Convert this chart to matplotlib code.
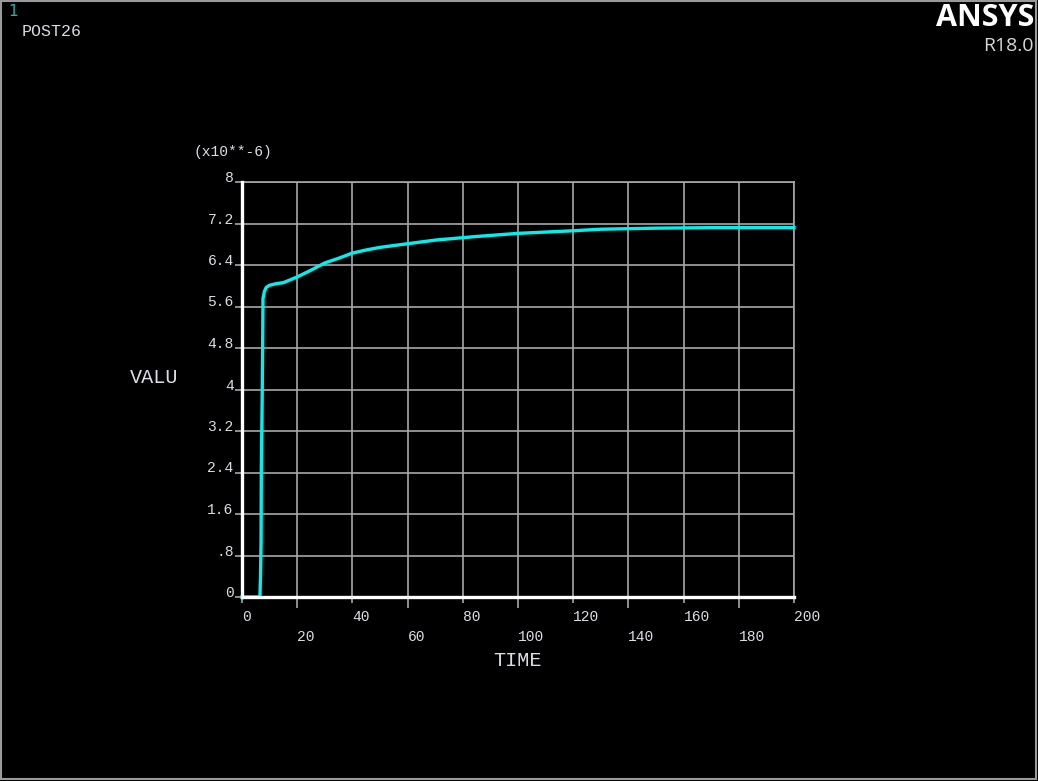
import matplotlib
matplotlib.use("Agg")
import matplotlib.pyplot as plt
from matplotlib.patches import Rectangle

# Data (values in units of 1e-6)
time = [0, 6.5, 6.7, 6.9, 7.0, 7.3, 7.5, 7.6, 7.8, 8.1, 8.8, 10, 12.4, 15, 20, 25,
        30, 35, 40, 45, 50, 60, 70, 85, 100, 120, 130, 150, 170, 200]
valu = [0, 0, 0.39, 1.04, 2.49, 3.76, 4.99, 5.76, 5.80, 5.89, 5.97, 6.01, 6.04, 6.06,
        6.17, 6.30, 6.44, 6.53, 6.63, 6.69, 6.74, 6.81, 6.88, 6.95, 7.01, 7.06, 7.09,
        7.11, 7.12, 7.12]

x_major = [0, 40, 80, 120, 160, 200]
x_minor = [20, 60, 100, 140, 180]
y_ticks = [0, 0.8, 1.6, 2.4, 3.2, 4, 4.8, 5.6, 6.4, 7.2, 8]
y_labels = ["0", ".8", "1.6", "2.4", "3.2", "4", "4.8", "5.6", "6.4", "7.2", "8"]

W, H = 1038, 781
fig = plt.figure(figsize=(W / 100, H / 100), dpi=100, facecolor="black")
ax = fig.add_axes([242 / W, (H - 597) / H, (794 - 242) / W, (597 - 182) / H])
ax.set_facecolor("black")

grid_c = "#a8a8a8"
text_c = "#dcdce4"
mono = "Liberation Mono"

ax.plot(time, valu, color="#00f0f0", lw=2.4, solid_joinstyle="round", zorder=3, clip_on=False)

ax.set_xlim(0, 200)
ax.set_ylim(0, 8)

ax.set_xticks(x_major)
ax.set_xticks(x_minor, minor=True)
ax.set_xticklabels([str(v) for v in x_major], fontfamily=mono, fontsize=10.5, color=text_c, ha="left")
ax.set_xticklabels([str(v) for v in x_minor], minor=True, fontfamily=mono, fontsize=10.5, color=text_c, ha="left")
ax.set_yticks(y_ticks)
ax.set_yticklabels(y_labels, fontfamily=mono, fontsize=10.5, color=text_c, va="baseline")

ax.tick_params(axis="x", which="major", length=4.5, width=1.2, color=grid_c, pad=5)
ax.tick_params(axis="x", which="minor", length=8, width=1.2, color=grid_c, pad=16)
ax.tick_params(axis="y", which="major", length=5, width=1.2, color=grid_c, pad=1)

ax.grid(True, which="both", color=grid_c, lw=1.2)
ax.set_axisbelow(True)

for s in ["top", "right"]:
    ax.spines[s].set_color(grid_c)
    ax.spines[s].set_linewidth(1.2)
for s in ["left", "bottom"]:
    ax.spines[s].set_color("white")
    ax.spines[s].set_linewidth(2.4)
    ax.spines[s].set_zorder(4)

# Axis titles
fig.text(130 / W, 1 - 378 / H, "VALU", fontfamily=mono, fontsize=14.5, color=text_c, ha="left", va="center")
fig.text(493 / W, 1 - 661 / H, "TIME", fontfamily=mono, fontsize=14.5, color=text_c, ha="left", va="center")
fig.text(194 / W, 1 - 152 / H, "(x10**-6)", fontfamily=mono, fontsize=10.5, color=text_c, ha="left", va="center")

# Header texts
fig.text(8 / W, 1 - 12 / H, "1", fontfamily="DejaVu Sans", fontsize=11, color="#2ab0b0", ha="left", va="center")
fig.text(22 / W, 1 - 32 / H, "POST26", fontfamily=mono, fontsize=12, color=text_c, ha="left", va="center")
fig.text(1034 / W, 1 - 18 / H, "ANSYS", fontfamily="Open Sans", fontweight="bold", fontsize=22, color="white", ha="right", va="center")
fig.text(1034 / W, 1 - 46 / H, "R18.0", fontfamily="Open Sans", fontsize=14, color="#d8d8d8", ha="right", va="center")

# Frame
fig.patches.append(Rectangle((0.001, 0.002), 0.997, 0.997, transform=fig.transFigure,
                             fill=False, edgecolor="#9a9a9a", lw=1.5))

fig.savefig("out.png", dpi=100, facecolor="black")
